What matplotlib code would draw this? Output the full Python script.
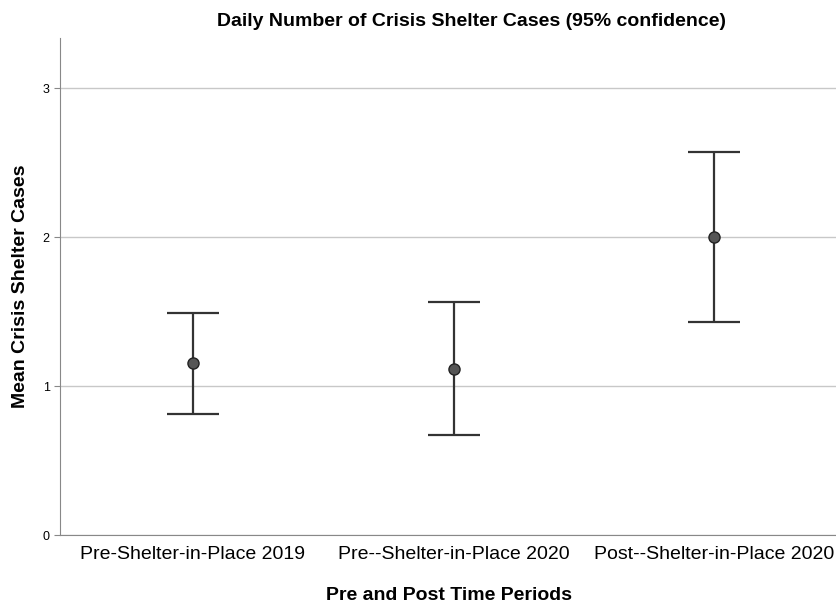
import matplotlib.pyplot as plt
import numpy as np

plt.rcParams['font.family'] = ['Liberation Sans', 'DejaVu Sans']

# data
periods = ['Pre-Shelter-in-Place 2019', 'Pre--Shelter-in-Place 2020', 'Post--Shelter-in-Place 2020']
means = [1.154, 1.114, 2.0]
lower = [0.812, 0.671, 1.430]
upper = [1.490, 1.564, 2.570]

fig = plt.figure(figsize=(8.37, 6.05), dpi=100)
ax = fig.add_axes([0.0717, 0.1157, 0.9283, 0.8213])

x = np.arange(len(periods))
m = np.array(means)
err = [m - np.array(lower), np.array(upper) - m]
ax.errorbar(x, m, yerr=err, fmt='o', color='#333333', ecolor='#333333',
            elinewidth=1.6, capsize=19, capthick=1.6, markersize=8,
            markerfacecolor='#555555', markeredgecolor='#222222', zorder=3)

ax.set_xlim(-0.51, 2.47)
ax.set_ylim(0, 3.336)
ax.set_yticks([0, 1, 2, 3])
ax.set_xticks(x)
ax.set_xticklabels(periods, fontsize=14)
ax.tick_params(axis='y', labelsize=9, length=4, color='#888888')
ax.tick_params(axis='x', length=0, pad=8)
ax.grid(axis='y', color='#c8c8c8', linewidth=1)
ax.set_axisbelow(True)
for s in ['top', 'right']:
    ax.spines[s].set_visible(False)
for s in ['left', 'bottom']:
    ax.spines[s].set_color('#888888')

ax.set_xlabel('Pre and Post Time Periods', fontsize=14, fontweight='bold', labelpad=17)
ax.set_ylabel('Mean Crisis Shelter Cases', fontsize=14, fontweight='bold', labelpad=10)
fig.text(472 / 837, 1 - 22 / 605, 'Daily Number of Crisis Shelter Cases (95% confidence)',
         ha='center', va='center', fontsize=14, fontweight='bold')

fig.savefig('out.png', dpi=100)
